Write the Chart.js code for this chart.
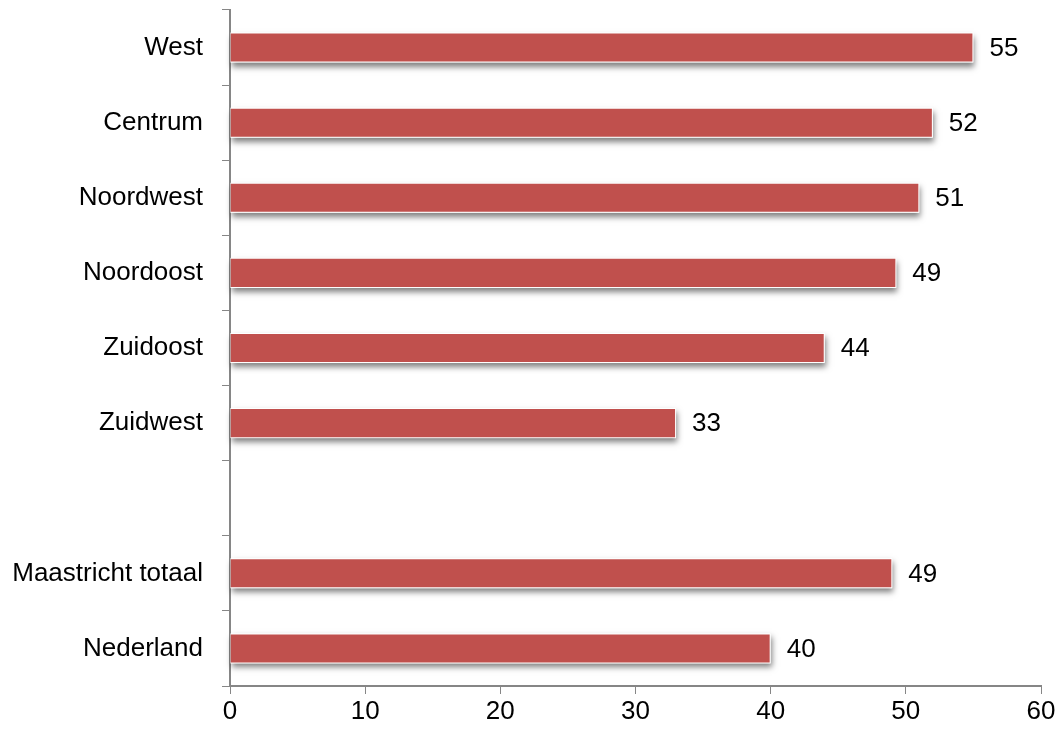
<!DOCTYPE html>
<html>
<head>
<meta charset="utf-8">
<script src="https://cdn.jsdelivr.net/npm/chart.js@4/dist/chart.umd.min.js"></script>
<style>
  html, body { margin: 0; padding: 0; background: #fff; }
  #wrap { width: 1058px; height: 729px; position: relative; }
</style>
</head>
<body>
<div id="wrap"><canvas id="chart"></canvas></div>
<script>
  // data
  const categories = ['West', 'Centrum', 'Noordwest', 'Noordoost', 'Zuidoost', 'Zuidwest', '', 'Maastricht totaal', 'Nederland'];
  const values = [55, 52, 51, 49.3, 44, 33, null, 49, 40];
  const xTicks = [0, 10, 20, 30, 40, 50, 60];

  const BAR_COLOR = '#C0504D';
  const AXIS_COLOR = '#868686';
  const FONT = 'Arial, "Liberation Sans", sans-serif';

  /* shadow under the bars (bar draw clips, so paint it beforehand) */
  const barShadow = {
    id: 'barShadow',
    beforeDatasetDraw(chart) {
      const ctx = chart.ctx;
      const meta = chart.getDatasetMeta(0);
      ctx.save();
      ctx.shadowColor = 'rgba(0,0,0,0.5)';
      ctx.shadowBlur = 6;
      ctx.shadowOffsetX = 1;
      ctx.shadowOffsetY = 4;
      ctx.fillStyle = '#ffffff';
      meta.data.forEach((bar, i) => {
        if (values[i] == null) return;
        const p = bar.getProps(['x', 'y', 'base', 'height'], true);
        ctx.fillRect(p.base, p.y - p.height / 2, p.x - p.base, p.height);
      });
      ctx.restore();
    }
  };

  /* value labels right of the bars */
  const valueLabels = {
    id: 'valueLabels',
    afterDatasetsDraw(chart) {
      const ctx = chart.ctx;
      const meta = chart.getDatasetMeta(0);
      ctx.save();
      ctx.font = '26px ' + FONT;
      ctx.fillStyle = '#000';
      ctx.textAlign = 'left';
      ctx.textBaseline = 'middle';
      meta.data.forEach((bar, i) => {
        const v = values[i];
        if (v == null) return;
        ctx.fillText(String(Math.round(v)), bar.x + 16, bar.y + 1);
      });
      ctx.restore();
    }
  };

  new Chart(document.getElementById('chart'), {
    type: 'bar',
    data: {
      labels: categories,
      datasets: [{
        data: values,
        backgroundColor: BAR_COLOR,
        borderColor: 'rgba(255,255,255,0.85)',
        borderWidth: 1,
        categoryPercentage: 1,
        barPercentage: 0.4
      }]
    },
    options: {
      indexAxis: 'y',
      responsive: true,
      maintainAspectRatio: false,
      animation: false,
      layout: { padding: { top: 10, right: 17, left: 0, bottom: 0 } },
      plugins: {
        legend: { display: false },
        tooltip: { enabled: false }
      },
      scales: {
        x: {
          min: 0,
          max: 60,
          afterBuildTicks(scale) {
            scale.ticks = xTicks.map((v) => ({ value: v }));
          },
          afterFit(scale) { scale.height = 43; },
          grid: {
            drawOnChartArea: false,
            drawTicks: true,
            tickLength: 8,
            color: AXIS_COLOR,
            lineWidth: 1
          },
          border: { color: AXIS_COLOR, width: 2 },
          ticks: {
            color: '#000',
            font: { size: 26, family: FONT },
            padding: 2
          }
        },
        y: {
          afterFit(scale) {
            scale.width = 230;
            // let layout padding alone decide the top/bottom of the plot
            scale.paddingTop = 0;
            scale.paddingBottom = 0;
          },
          grid: {
            offset: true,
            drawOnChartArea: false,
            drawTicks: true,
            tickLength: 8,
            color: AXIS_COLOR,
            lineWidth: 1
          },
          border: { color: AXIS_COLOR, width: 2 },
          ticks: {
            color: '#000',
            font: { size: 26, family: FONT },
            padding: 19
          }
        }
      }
    },
    plugins: [barShadow, valueLabels]
  });
</script>
</body>
</html>
